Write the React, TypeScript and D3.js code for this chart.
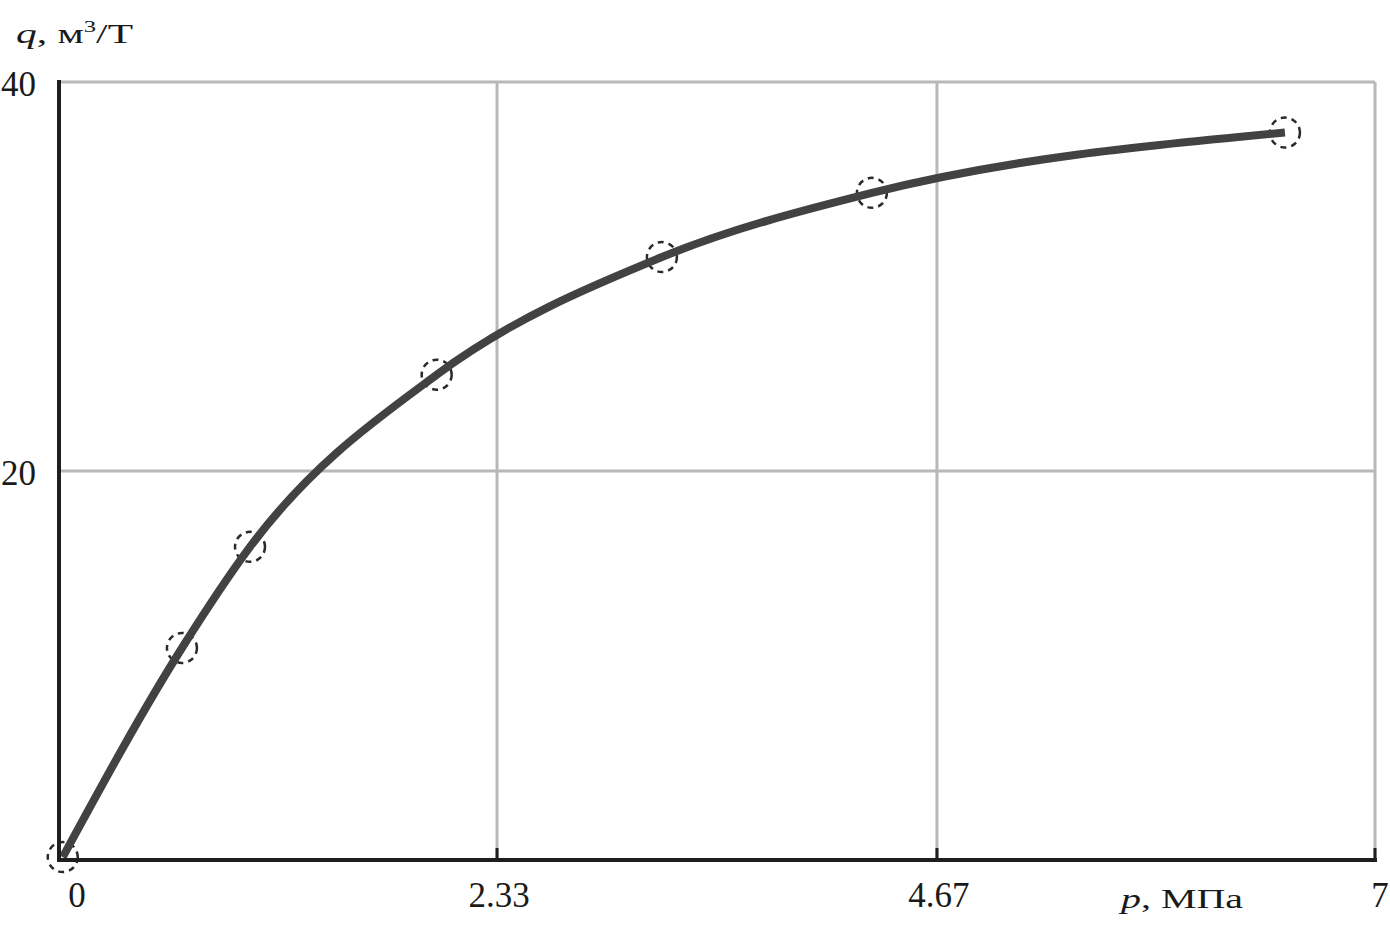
import React from "react";
import * as d3 from "d3";

const width = 1390;
const height = 936;
const margin = { top: 82, right: 15, bottom: 76, left: 59 };

// p, MPa
const pValues = [0.02, 0.654, 1.016, 2.009, 3.207, 4.324, 6.521];
// q, m3/t
const qValues = [0.15, 10.9, 16.1, 24.95, 31.0, 34.3, 37.4];

const xTicks = [0, 2.33, 4.67, 7];
const xTickLabels = ["0", "2.33", "4.67", "7"];
const yTicks = [20, 40];
const yTickLabels = ["20", "40"];

const font = "'Liberation Serif', 'DejaVu Serif', serif";

export default function App() {
  const x = d3
    .scaleLinear()
    .domain([0, 7])
    .range([margin.left, width - margin.right]);
  const y = d3
    .scaleLinear()
    .domain([0, 40])
    .range([height - margin.bottom, margin.top]);

  const pts = pValues.map((p, i) => ({ p, q: qValues[i] }));

  const curve = d3
    .line<{ p: number; q: number }>()
    .x((d) => x(d.p))
    .y((d) => y(d.q))
    .curve(d3.curveMonotoneX);

  const x0 = x(0);
  const x1 = x(7);
  const y0 = y(0);
  const y1 = y(40);

  return (
    <svg
      width={width}
      height={height}
      style={{ position: "absolute", left: 0, top: 0, background: "#fff" }}
    >
      {/* grid */}
      {xTicks.slice(1).map((t) => (
        <line
          key={"gx" + t}
          x1={x(t)}
          x2={x(t)}
          y1={y1}
          y2={y0}
          stroke="#b8b8b8"
          strokeWidth={3}
        />
      ))}
      {yTicks.map((t) => (
        <line
          key={"gy" + t}
          x1={x0}
          x2={x1}
          y1={y(t)}
          y2={y(t)}
          stroke="#b8b8b8"
          strokeWidth={3}
        />
      ))}

      {/* markers */}
      {pts.map((d, i) => (
        <circle
          key={i}
          cx={x(d.p)}
          cy={y(d.q)}
          r={15}
          fill="none"
          stroke="#2a2a2a"
          strokeWidth={2.5}
          strokeDasharray="6 5"
        />
      ))}

      {/* curve */}
      <path d={curve(pts) || ""} fill="none" stroke="#424242" strokeWidth={8} />

      {/* axes */}
      <line x1={x0} x2={x0} y1={y1 - 2} y2={y0 + 2} stroke="#1e1e1e" strokeWidth={4} />
      <line x1={x0 - 2} x2={x1 + 2} y1={y0} y2={y0} stroke="#1e1e1e" strokeWidth={4} />
      {xTicks.slice(1).map((t) => (
        <line
          key={"tx" + t}
          x1={x(t)}
          x2={x(t)}
          y1={y0 - 12}
          y2={y0}
          stroke="#1e1e1e"
          strokeWidth={3}
        />
      ))}

      {/* tick labels */}
      {xTicks.map((t, i) => (
        <text
          key={"lx" + t}
          x={i === 0 ? x(t) + 18 : i === xTicks.length - 1 ? x(t) + 5 : x(t) + 2}
          y={907}
          textAnchor="middle"
          fontFamily={font}
          fontSize={35}
          fill="#1a1a1a"
        >
          {xTickLabels[i]}
        </text>
      ))}
      {yTicks.map((t, i) => (
        <text
          key={"ly" + t}
          x={1}
          y={y(t) + 14}
          textAnchor="start"
          fontFamily={font}
          fontSize={35}
          fill="#1a1a1a"
        >
          {yTickLabels[i]}
        </text>
      ))}

      {/* axis titles */}
      <text
        x={16}
        y={43}
        fontFamily={font}
        fontSize={27}
        fill="#1a1a1a"
        textLength={117}
        lengthAdjust="spacingAndGlyphs"
      >
        <tspan fontStyle="italic">q</tspan>
        <tspan>, м</tspan>
        <tspan fontSize={16} dy={-11}>3</tspan>
        <tspan dy={11}>/Т</tspan>
      </text>
      <text
        x={1121}
        y={908}
        fontFamily={font}
        fontSize={27}
        fill="#1a1a1a"
        textLength={122}
        lengthAdjust="spacingAndGlyphs"
      >
        <tspan fontStyle="italic">p</tspan>
        <tspan>, МПа</tspan>
      </text>
    </svg>
  );
}
